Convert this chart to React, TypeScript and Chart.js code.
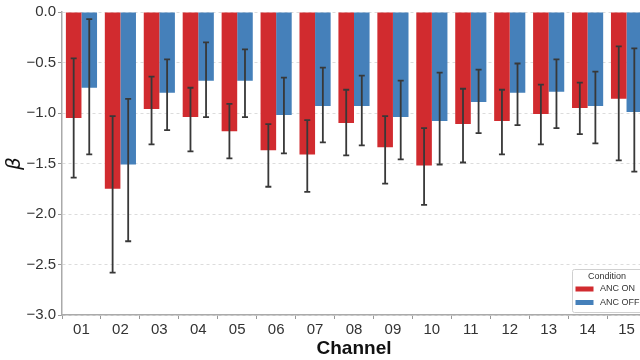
import React, { useEffect, useRef } from 'react';
import { Chart, registerables } from 'chart.js';

Chart.register(...registerables);

const channels = ['01', '02', '03', '04', '05', '06', '07', '08', '09', '10', '11', '12', '13', '14', '15'];

const ancOn = [-1.05, -1.75, -0.96, -1.04, -1.18, -1.37, -1.41, -1.10, -1.34, -1.52, -1.11, -1.08, -1.01, -0.95, -0.86];
const ancOnLow = [-1.64, -2.58, -1.31, -1.38, -1.45, -1.73, -1.78, -1.42, -1.70, -1.91, -1.49, -1.41, -1.31, -1.21, -1.47];
const ancOnHigh = [-0.46, -1.03, -0.64, -0.75, -0.91, -1.11, -1.07, -0.77, -1.03, -1.15, -0.76, -0.77, -0.72, -0.70, -0.34];

const ancOff = [-0.75, -1.51, -0.80, -0.68, -0.68, -1.02, -0.93, -0.93, -1.04, -1.08, -0.89, -0.80, -0.79, -0.93, -0.99];
const ancOffLow = [-1.41, -2.27, -1.17, -1.04, -1.04, -1.40, -1.29, -1.32, -1.46, -1.51, -1.20, -1.12, -1.15, -1.30, -1.58];
const ancOffHigh = [-0.07, -0.86, -0.47, -0.30, -0.37, -0.65, -0.55, -0.63, -0.68, -0.60, -0.57, -0.51, -0.47, -0.59, -0.36];

const seriesLabels = ['ANC ON', 'ANC OFF'];
const seriesColors = ['#d12b2f', '#4580ba'];
const legendTitle = 'Condition';
const xTitle = 'Channel';
const yTitle = 'β';
const yMin = -3;
const yMax = 0;
const yStep = 0.5;

const errLow = [ancOnLow, ancOffLow];
const errHigh = [ancOnHigh, ancOffHigh];

const FONT = '"Liberation Sans", Arial, sans-serif';

const errorBarPlugin = {
  id: 'errorBars',
  afterDatasetsDraw(chart: any) {
    const { ctx } = chart;
    const yScale = chart.scales.y;
    ctx.save();
    ctx.strokeStyle = '#383838';
    ctx.lineWidth = 1.8;
    chart.data.datasets.forEach((_ds: any, i: number) => {
      const meta = chart.getDatasetMeta(i);
      meta.data.forEach((el: any, j: number) => {
        const x = el.x;
        const y1 = yScale.getPixelForValue(errLow[i][j]);
        const y2 = yScale.getPixelForValue(errHigh[i][j]);
        ctx.beginPath();
        ctx.moveTo(x, y1);
        ctx.lineTo(x, y2);
        ctx.moveTo(x - 3, y1);
        ctx.lineTo(x + 3, y1);
        ctx.moveTo(x - 3, y2);
        ctx.lineTo(x + 3, y2);
        ctx.stroke();
      });
    });
    ctx.restore();
  },
};

const legendPlugin = {
  id: 'insideLegend',
  afterDraw(chart: any) {
    const { ctx, chartArea: ca } = chart;
    const w = 70;
    const h = 43;
    const x = ca.right - 74;
    const y = ca.bottom - 46;
    ctx.save();
    ctx.fillStyle = 'rgba(255,255,255,0.9)';
    ctx.strokeStyle = '#d0d0d0';
    ctx.lineWidth = 1;
    ctx.beginPath();
    if (ctx.roundRect) ctx.roundRect(x + 0.5, y + 0.5, w, h, 2);
    else ctx.rect(x + 0.5, y + 0.5, w, h);
    ctx.fill();
    ctx.stroke();
    ctx.fillStyle = '#333';
    ctx.font = `9px ${FONT}`;
    ctx.textAlign = 'center';
    ctx.textBaseline = 'middle';
    ctx.fillText(legendTitle, x + w / 2, y + 7.5);
    ctx.textAlign = 'left';
    chart.data.datasets.forEach((ds: any, i: number) => {
      const yy = y + 20 + i * 13.5;
      ctx.fillStyle = ds.backgroundColor;
      ctx.fillRect(x + 3.5, yy - 2.5, 18, 5);
      ctx.fillStyle = '#333';
      ctx.fillText(ds.label, x + 28, yy);
    });
    ctx.restore();
  },
};

function fmt(v: number) {
  const s = Math.abs(v).toFixed(1);
  return v < 0 ? '\u2212' + s : s;
}

export default function App() {
  const ref = useRef<HTMLCanvasElement | null>(null);

  useEffect(() => {
    if (!ref.current) return;
    const chart = new Chart(ref.current, {
      type: 'bar',
      data: {
        labels: channels,
        datasets: [
          {
            label: seriesLabels[0],
            data: ancOn,
            backgroundColor: seriesColors[0],
            borderWidth: 0,
            categoryPercentage: 0.8,
            barPercentage: 1.0,
          },
          {
            label: seriesLabels[1],
            data: ancOff,
            backgroundColor: seriesColors[1],
            borderWidth: 0,
            categoryPercentage: 0.8,
            barPercentage: 1.0,
          },
        ],
      },
      options: {
        responsive: true,
        maintainAspectRatio: false,
        animation: false,
        layout: { padding: { left: 3, top: 12, right: 6, bottom: 0 } },
        plugins: {
          legend: { display: false },
          tooltip: { enabled: false },
        },
        scales: {
          x: {
            grid: {
              display: true,
              drawOnChartArea: false,
              drawTicks: true,
              tickLength: 4,
              tickColor: '#999',
              tickWidth: 1,
            },
            border: { display: true, color: '#aaa', width: 1.5 },
            ticks: {
              color: '#333',
              font: { family: FONT, size: 15 },
              padding: 2,
              maxRotation: 0,
              autoSkip: false,
            },
            title: {
              display: true,
              text: xTitle,
              color: '#111',
              font: { family: FONT, size: 19, weight: 'bold' },
              padding: { top: 0, bottom: 0 },
            },
            afterFit: (s: any) => {
              s.height = 45;
            },
          },
          y: {
            min: yMin,
            max: yMax,
            ticks: {
              stepSize: yStep,
              color: '#333',
              font: { family: FONT, size: 15 },
              padding: 2,
              callback: (v: any) => fmt(Number(v)),
            },
            grid: {
              color: '#dcdcdc',
              lineWidth: 1,
              drawTicks: true,
              tickLength: 4,
              tickColor: '#999',
              tickBorderDash: [],
            },
            border: { display: true, color: '#aaa', width: 1.5, dash: [3, 3] },
            title: {
              display: true,
              text: yTitle,
              color: '#111',
              font: { family: '"DejaVu Sans", sans-serif', size: 20, style: 'italic' },
              padding: 0,
            },
            afterFit: (s: any) => {
              s.width = 59;
            },
          },
        },
      } as any,
      plugins: [errorBarPlugin, legendPlugin],
    });
    return () => chart.destroy();
  }, []);

  return (
    <div style={{ position: 'fixed', left: 0, top: 0, width: 652, height: 360, background: '#fff' }}>
      <canvas ref={ref} />
    </div>
  );
}
